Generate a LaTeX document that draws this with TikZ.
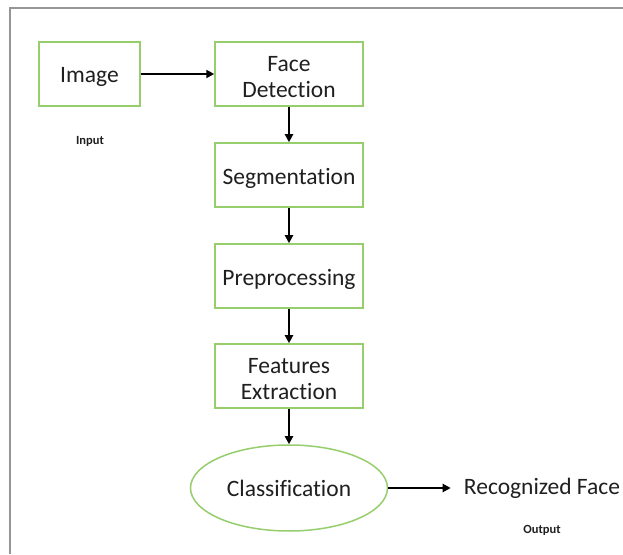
\documentclass[tikz,border=0pt]{standalone}
\usepackage{fontspec}
\setmainfont[Ligatures=NoCommon]{Carlito}
\usetikzlibrary{shapes.geometric,arrows.meta}
\definecolor{boxgreen}{RGB}{150,206,110}
\definecolor{framegray}{RGB}{150,150,150}
\begin{document}
\begin{tikzpicture}[x=1pt,y=1pt,
  txt/.style={font=\fontsize{23.5}{26.5}\selectfont,text=black!88},
  stepbox/.style={draw=boxgreen,line width=1.5pt,minimum width=148pt,minimum height=64pt,inner sep=0pt},
  boxtext/.style={txt,align=center,inner sep=0pt,yshift=-3pt},
  flow/.style={draw=black,line width=2.2pt,-{Triangle[length=8pt,width=8pt]}},
  lbl/.style={font=\bfseries\fontsize{12.5}{14}\selectfont,text=black!88}]
\useasboundingbox (0,0) rectangle (623,554);
\fill[white] (0,0) rectangle (623,554);
\draw[framegray,line width=2.5pt] (10,0) -- (10,546) -- (623,546);
\node[stepbox,minimum width=101pt,label={[boxtext]center:Image}] (img) at (89.5,480) {};
\node[stepbox,label={[boxtext]center:{Face\\Detection}}] (fd) at (289,480) {};
\node[stepbox,label={[boxtext]center:Segmentation}] (seg) at (289,379) {};
\node[stepbox,label={[boxtext]center:Preprocessing}] (pre) at (289,278) {};
\node[stepbox,label={[boxtext]center:{Features\\Extraction}}] (fe) at (289,178) {};
\node[txt,draw=boxgreen,line width=1.5pt,ellipse,minimum width=197pt,minimum height=86pt,inner sep=0pt] (cls) at (289,66) {Classification};
\node[txt,inner sep=0pt] (rf) at (542,66) {Recognized Face};
\node[lbl] (in) at (90,413) {Input};
\node[lbl] (out) at (542,24) {Output};
\draw[flow] (img) -- (fd);
\draw[flow] (fd) -- (seg);
\draw[flow] (seg) -- (pre);
\draw[flow] (pre) -- (fe);
\draw[flow] (fe) -- (cls);
\draw[flow] (cls) -- ([xshift=-13pt]rf.west);
\end{tikzpicture}
\end{document}
